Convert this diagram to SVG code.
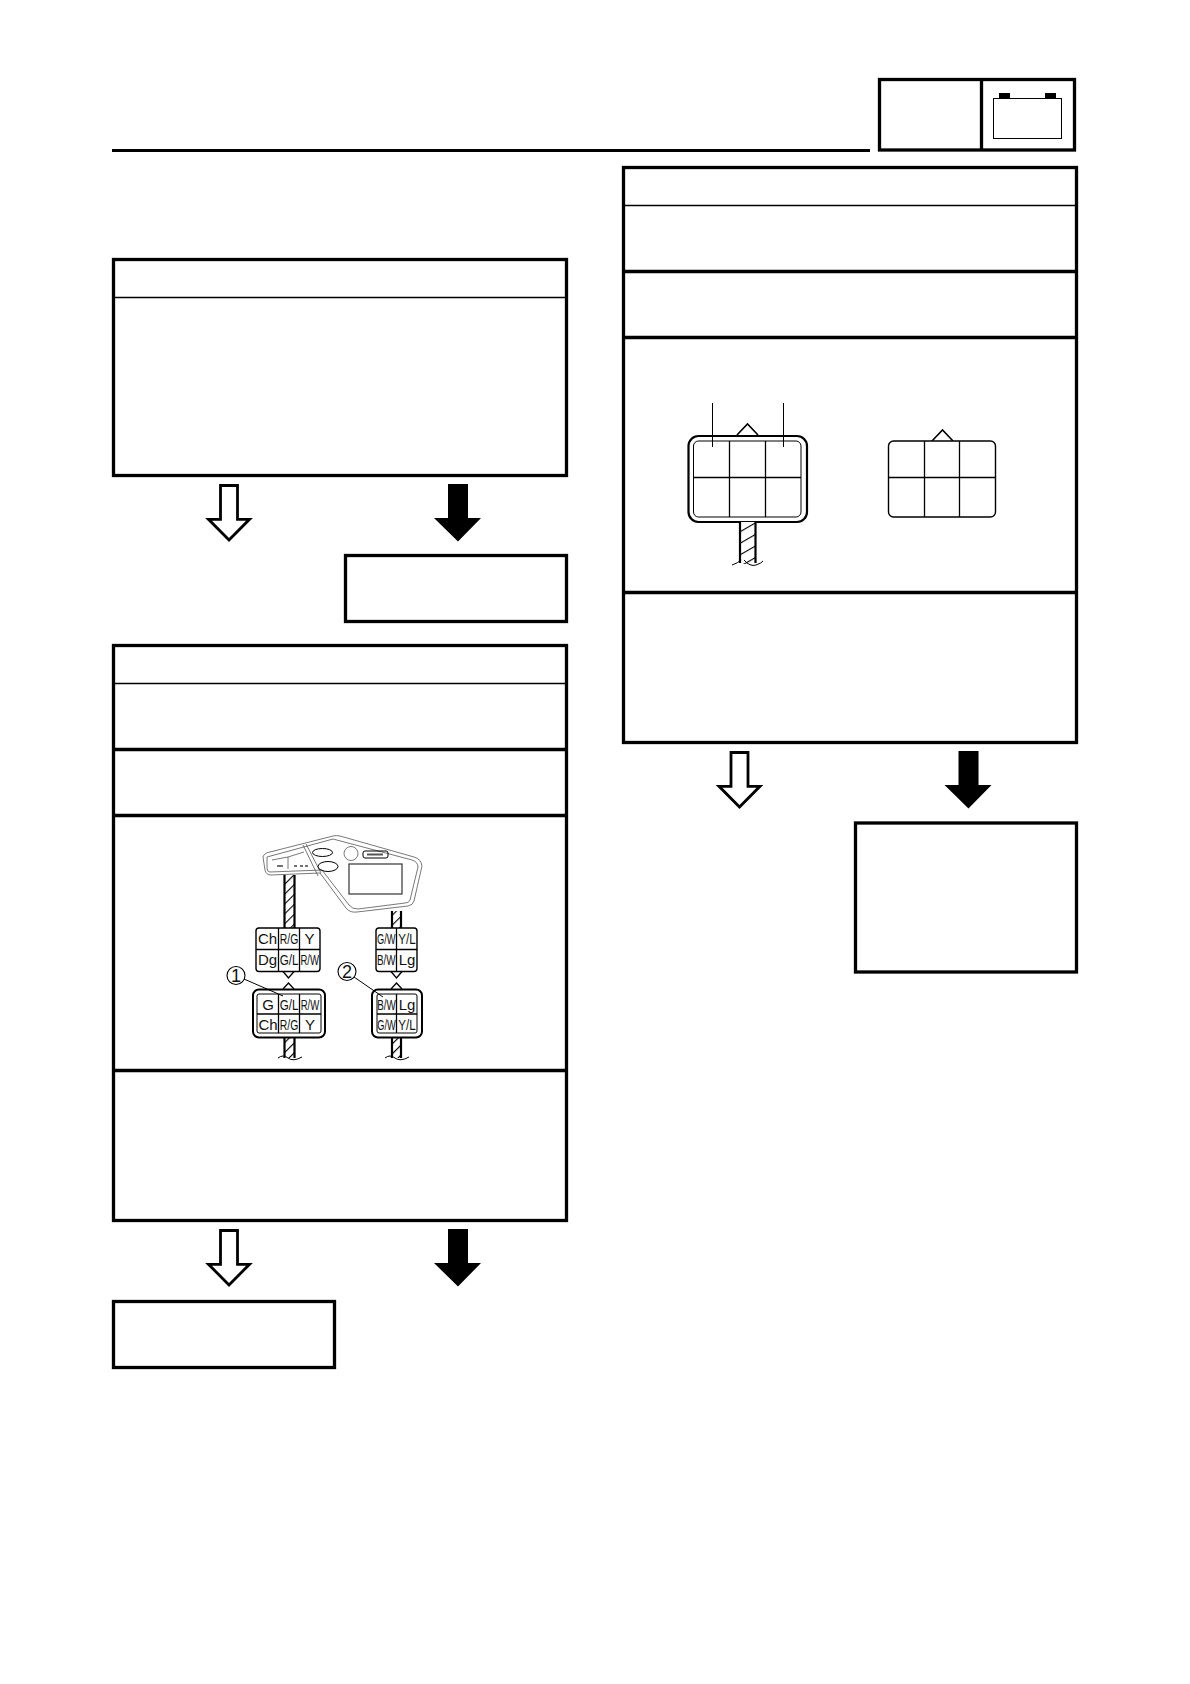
<svg xmlns="http://www.w3.org/2000/svg" width="1190" height="1684" viewBox="0 0 1190 1684">
<style>
.box{fill:#fff;stroke:#000;stroke-width:3.3}
.sep{fill:none;stroke:#000;stroke-width:3.3}
.div{fill:none;stroke:#000;stroke-width:1.3}
.thick{fill:none;stroke:#000;stroke-width:2.2}
.thin{fill:none;stroke:#000;stroke-width:1}
.gray{fill:none;stroke:#555;stroke-width:.8}
.hollow{fill:#fff;stroke:#000;stroke-width:2.8;stroke-linejoin:miter}
.solid{fill:#000;stroke:none}
.wire{fill:url(#hatch);stroke:none}
.wire2{fill:url(#hatch2);stroke:none}
text{font-family:"Liberation Sans",Arial,sans-serif;fill:#111;text-anchor:middle}
.c{font-size:15px}
.s{font-size:14.5px}
.n{font-size:18px}
</style>
<defs>
<pattern id="hatch" width="7" height="7" patternUnits="userSpaceOnUse" patternTransform="rotate(-45)">
<rect width="7" height="7" fill="#fff"/><rect width="7" height="1.1" fill="#000"/>
</pattern>
<pattern id="hatch2" width="10" height="10" patternUnits="userSpaceOnUse" patternTransform="rotate(-30)">
<rect width="10" height="10" fill="#fff"/><rect width="10" height="1.1" fill="#000"/>
</pattern>
<polygon id="ah" class="hollow" points="220.5,485.5 237.5,485.5 237.5,519.3 249.5,519.3 229,540 208.5,519.3 220.5,519.3"/>
<polygon id="as" class="solid" points="448,484 468,484 468,518 481,518 458,541.5 434,518 448,518"/>
</defs>

<g id="header">
<path d="M112 150.5H870" stroke="#000" stroke-width="3" fill="none"/>
<rect class="box" x="879.5" y="79.5" width="195" height="70.5"/>
<path class="sep" d="M981.5 79.5V150"/>
<rect x="993.5" y="98.5" width="68" height="40" fill="#fff" stroke="#000" stroke-width="1"/>
<rect x="999" y="93" width="11" height="5.5" fill="#000"/>
<rect x="1045" y="93" width="11" height="5.5" fill="#000"/>
</g>

<g id="box-left-1">
<rect class="box" x="113.5" y="259.5" width="453" height="216"/>
<path class="div" d="M113.5 297.5H566.5"/>
</g>
<g id="box-left-small">
<rect class="box" x="345.5" y="555.5" width="221" height="66"/>
</g>
<g id="box-left-2">
<rect class="box" x="113.5" y="645.5" width="453" height="575"/>
<path class="div" d="M113.5 683.5H566.5"/>
<path class="sep" d="M113.5 749.5H566.5M113.5 815.5H566.5M113.5 1070.5H566.5"/>
</g>
<g id="box-left-bottom">
<rect class="box" x="113.5" y="1301.5" width="221" height="66"/>
</g>
<g id="box-right-1">
<rect class="box" x="623.5" y="167.5" width="453" height="575"/>
<path class="div" d="M623.5 205.5H1076.5"/>
<path class="sep" d="M623.5 271.5H1076.5M623.5 337.5H1076.5M623.5 592.5H1076.5"/>
</g>
<g id="box-right-small">
<rect class="box" x="855.5" y="823" width="221" height="149"/>
</g>

<g id="connectors">
<use href="#ah"/>
<use href="#as"/>
<use href="#ah" y="745"/>
<use href="#as" y="745"/>
<use href="#ah" x="510.5" y="267"/>
<use href="#as" x="510.5" y="267"/>
</g>

<g id="meter-diagram">
<path class="gray" d="M263 857Q264 853 270 852L333 836Q336 835 340 836L414 857Q421 859 422 866L414 901Q413 905 408 906L357 912Q350 913 346 908L320 873L271 875Q266 875 265 870Z"/>
<path class="gray" d="M267 857L333 839L412 860Q418 862 418 867L410 900Q409 903 405 903L358 909Q352 909 349 905L322 870L270 872Q267 872 267 868Z"/>
<path class="gray" d="M303 845L318 876M306 844L321 873"/>
<ellipse class="thin" cx="322.5" cy="852.5" rx="10" ry="4"/>
<ellipse class="thin" cx="328" cy="866.5" rx="10" ry="5"/>
<circle class="gray" cx="351" cy="853.5" r="7"/>
<rect class="thin" x="363" y="851" width="25" height="7" rx="2"/>
<path d="M367 854.5H383" stroke="#555" stroke-width="2"/>
<rect x="349" y="864" width="53" height="30" fill="none" stroke="#333" stroke-width="1.2"/>
<path class="gray" d="M272 860L288 857V869M288 857L304 852"/>
<path d="M294 866h3M300 866h3M305 866h3M277 866h6" stroke="#444" stroke-width="1.4"/>

<g id="wires">
<rect class="wire" x="284.5" y="875" width="10" height="53"/>
<path class="thick" d="M284.5 875V928M294.5 875V928"/>
<rect class="wire" x="392" y="911" width="9" height="17"/>
<path class="thick" d="M392 911V928M401 911V928"/>
<rect class="wire" x="284.5" y="1037" width="10" height="21"/>
<path class="thick" d="M284.5 1037V1058M294.5 1037V1058"/>
<path class="thin" d="M278 1058Q283 1054 288 1058T302 1057"/>
<rect class="wire" x="392" y="1037" width="9" height="21"/>
<path class="thick" d="M392 1037V1058M401 1037V1058"/>
<path class="thin" d="M385 1058Q390 1054 395 1058T409 1057"/>
</g>

<g id="connector-a-top">
<path class="thin" d="M283 971.5L288.5 978L294 971.5" style="stroke-width:1.3"/>
<rect x="256" y="928" width="64" height="43.5" rx="3" fill="#fff" stroke="#000" stroke-width="1.4"/>
<path class="div" d="M278.5 928V971.5M299.5 928V971.5M256 949.5H320"/>
<text class="c" x="267.5" y="944">Ch</text>
<text class="s" transform="translate(289 944) scale(.72 1)">R/G</text>
<text class="c" x="309.5" y="944">Y</text>
<text class="c" x="267.5" y="965">Dg</text>
<text class="s" transform="translate(289 965) scale(.8 1)">G/L</text>
<text class="s" transform="translate(309.7 965) scale(.66 1)">R/W</text>
</g>
<g id="connector-a-bottom">
<path class="thin" d="M283 989L288.5 983L294 989" style="stroke-width:1.3"/>
<rect x="253" y="989.5" width="72" height="48" rx="6" fill="#fff" stroke="#000" stroke-width="2"/>
<rect x="257" y="994" width="64" height="39" rx="2" fill="none" stroke="#000" stroke-width="1"/>
<path class="div" d="M278.5 994V1033M299.5 994V1033M257 1014H321"/>
<text class="c" x="268" y="1010">G</text>
<text class="s" transform="translate(289 1010) scale(.8 1)">G/L</text>
<text class="s" transform="translate(310 1010) scale(.66 1)">R/W</text>
<text class="c" x="268" y="1030">Ch</text>
<text class="s" transform="translate(289 1030) scale(.72 1)">R/G</text>
<text class="c" x="310" y="1030">Y</text>
</g>
<g id="connector-b-top">
<path class="thin" d="M391 971.5L396.5 978L402 971.5" style="stroke-width:1.3"/>
<rect x="376" y="928" width="41" height="43.5" rx="3" fill="#fff" stroke="#000" stroke-width="1.4"/>
<path class="div" d="M396.5 928V971.5M376 949.5H417"/>
<text class="s" transform="translate(386.2 944) scale(.64 1)">G/W</text>
<text class="s" transform="translate(407 944) scale(.8 1)">Y/L</text>
<text class="s" transform="translate(386.2 965) scale(.68 1)">B/W</text>
<text class="c" x="407" y="965">Lg</text>
</g>
<g id="connector-b-bottom">
<path class="thin" d="M391 989L396.5 983L402 989" style="stroke-width:1.3"/>
<rect x="372" y="989.5" width="50" height="48" rx="6" fill="#fff" stroke="#000" stroke-width="2"/>
<rect x="377" y="994" width="40" height="39" rx="2" fill="none" stroke="#000" stroke-width="1"/>
<path class="div" d="M396.5 994V1033M377 1014H417"/>
<text class="s" transform="translate(386.5 1010) scale(.68 1)">B/W</text>
<text class="c" x="407" y="1010">Lg</text>
<text class="s" transform="translate(386.5 1030) scale(.64 1)">G/W</text>
<text class="s" transform="translate(407 1030) scale(.8 1)">Y/L</text>
</g>
<g id="callout-1">
<circle cx="236" cy="975.5" r="9" fill="#fff" stroke="#000" stroke-width="1.1"/>
<text class="n" x="236" y="981.5">1</text>
<path class="thin" d="M244 979L283 996"/>
</g>
<g id="callout-2">
<circle cx="347" cy="971.5" r="9" fill="#fff" stroke="#000" stroke-width="1.1"/>
<text class="n" x="347" y="977.5">2</text>
<path class="thin" d="M354 977L383 997"/>
</g>
</g>

<g id="coupler-left">
<path class="thick" d="M737 435L747.5 424L758 435" style="stroke-width:1.6"/>
<rect x="688.5" y="436" width="118.5" height="86" rx="10" fill="#fff" stroke="#000" stroke-width="2.2"/>
<rect x="693.5" y="441" width="107.5" height="76" rx="5" fill="none" stroke="#000" stroke-width="1"/>
<path class="div" d="M729.5 441V517M765.5 441V517M693.5 477.5H801"/>
<path class="thin" d="M712.5 403V447M783.5 403V447"/>
<rect class="wire2" x="740" y="522" width="15.5" height="42"/>
<path class="thick" d="M740 522V563M755.5 522V563"/>
<path class="thin" d="M732 565Q738 563 741 560M744 560Q750 567 756 565T763 561"/>
</g>
<g id="coupler-right">
<path class="thick" d="M932 441L942.5 430L953 441" style="stroke-width:1.6"/>
<rect x="888.5" y="441" width="107" height="76" rx="5" fill="#fff" stroke="#000" stroke-width="1.4"/>
<path class="div" d="M924.5 441V517M959.5 441V517M888.5 477.5H995.5"/>
</g>
</svg>
